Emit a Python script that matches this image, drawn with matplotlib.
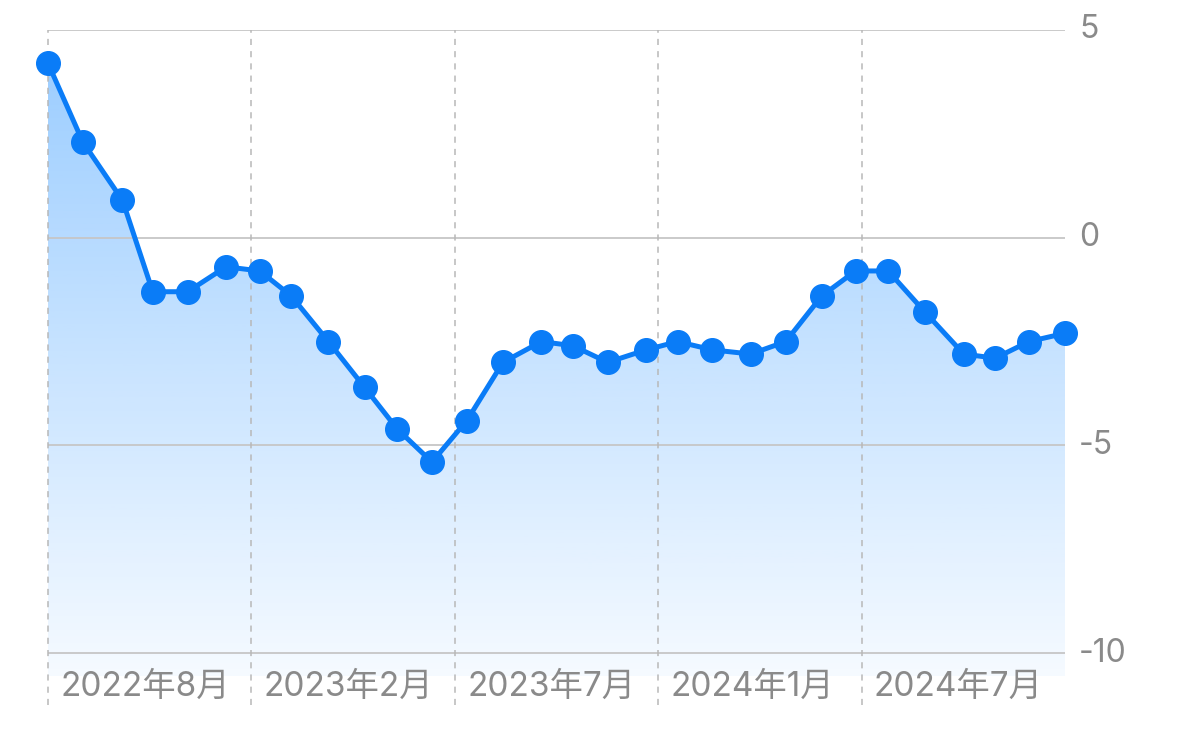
import numpy as np
import pandas as pd
import matplotlib
matplotlib.use("Agg")
import matplotlib.pyplot as plt
from matplotlib.patches import Polygon

plt.rcParams['font.family'] = ['Inter', 'Noto Sans CJK JP', 'DejaVu Sans']

dates = ["2022-08-01", "2022-08-31", "2022-10-04", "2022-10-30", "2022-11-29",
         "2023-01-01", "2023-01-30", "2023-02-26", "2023-03-30", "2023-04-30",
         "2023-05-28", "2023-06-27", "2023-07-27", "2023-08-27", "2023-09-29",
         "2023-10-26", "2023-11-25", "2023-12-28", "2024-01-24", "2024-02-23",
         "2024-03-27", "2024-04-26", "2024-05-27", "2024-06-25", "2024-07-23",
         "2024-08-24", "2024-09-26", "2024-10-23", "2024-11-21", "2024-12-22"]
values = [4.2, 2.3, 0.9, -1.3, -1.3, -0.7, -0.8, -1.4, -2.5, -3.6,
          -4.6, -5.4, -4.4, -3.0, -2.5, -2.6, -3.0, -2.7, -2.5, -2.7,
          -2.8, -2.5, -1.4, -0.8, -0.8, -1.8, -2.8, -2.9, -2.5, -2.3]
x_labels = ["2022年8月", "2023年2月", "2023年7月", "2024年1月", "2024年7月"]
y_ticks = [5, 0, -5, -10]

blue = "#0a7cf7"
grey_text = "#8a8a8a"

x = pd.to_datetime(dates).map(lambda d: d.toordinal()).to_numpy(dtype=float)
y = np.array(values)
ylo, yhi = -10.55, 5

fig = plt.figure(figsize=(11.79, 7.48), dpi=100)
ax = fig.add_axes([48 / 1179, 72 / 748, (1065 - 48) / 1179, 646 / 748])
ax.set_xlim(x[0], x[-1])
ax.set_ylim(ylo, yhi)

# gradient fill under the line
grad = np.linspace(0.42, 0.04, 256).reshape(-1, 1)
rgba = np.zeros((256, 1, 4))
rgba[..., 0] = 10 / 255
rgba[..., 1] = 132 / 255
rgba[..., 2] = 1.0
rgba[..., 3] = grad
img = ax.imshow(rgba, extent=[x[0], x[-1], ylo, yhi], aspect='auto',
                origin='upper', zorder=1)
poly = Polygon(np.column_stack([np.r_[x[0], x, x[-1]], np.r_[ylo, y, ylo]]),
               closed=True, transform=ax.transData)
img.set_clip_path(poly)

# grid
for v in y_ticks:
    ax.axhline(v, color="#c6c6c6", lw=1.3, zorder=2)
    ax.text(1.014, (v - ylo) / (yhi - ylo), str(v),
            transform=ax.transAxes, ha='left', va='center',
            fontsize=23, color=grey_text)
gx = np.linspace(x[0], x[-1], 6)[:5]
for xv, lab in zip(gx, x_labels):
    ax.axvline(xv, ymin=-0.045, ymax=1, color="#b8b8b8", lw=1.1,
               ls=(0, (4, 4)), clip_on=False, zorder=2)
    ax.text(xv + (x[-1] - x[0]) * 0.012, -0.016, lab,
            transform=ax.get_xaxis_transform(), ha='left', va='center',
            fontsize=24, color=grey_text)

ax.plot(x, y, color=blue, lw=3.6, marker='o', ms=17, zorder=4,
        solid_joinstyle='round', clip_on=False)

for s in ax.spines.values():
    s.set_visible(False)
ax.set_xticks([])
ax.set_yticks([])

fig.savefig("out.png", dpi=100, facecolor="white")
